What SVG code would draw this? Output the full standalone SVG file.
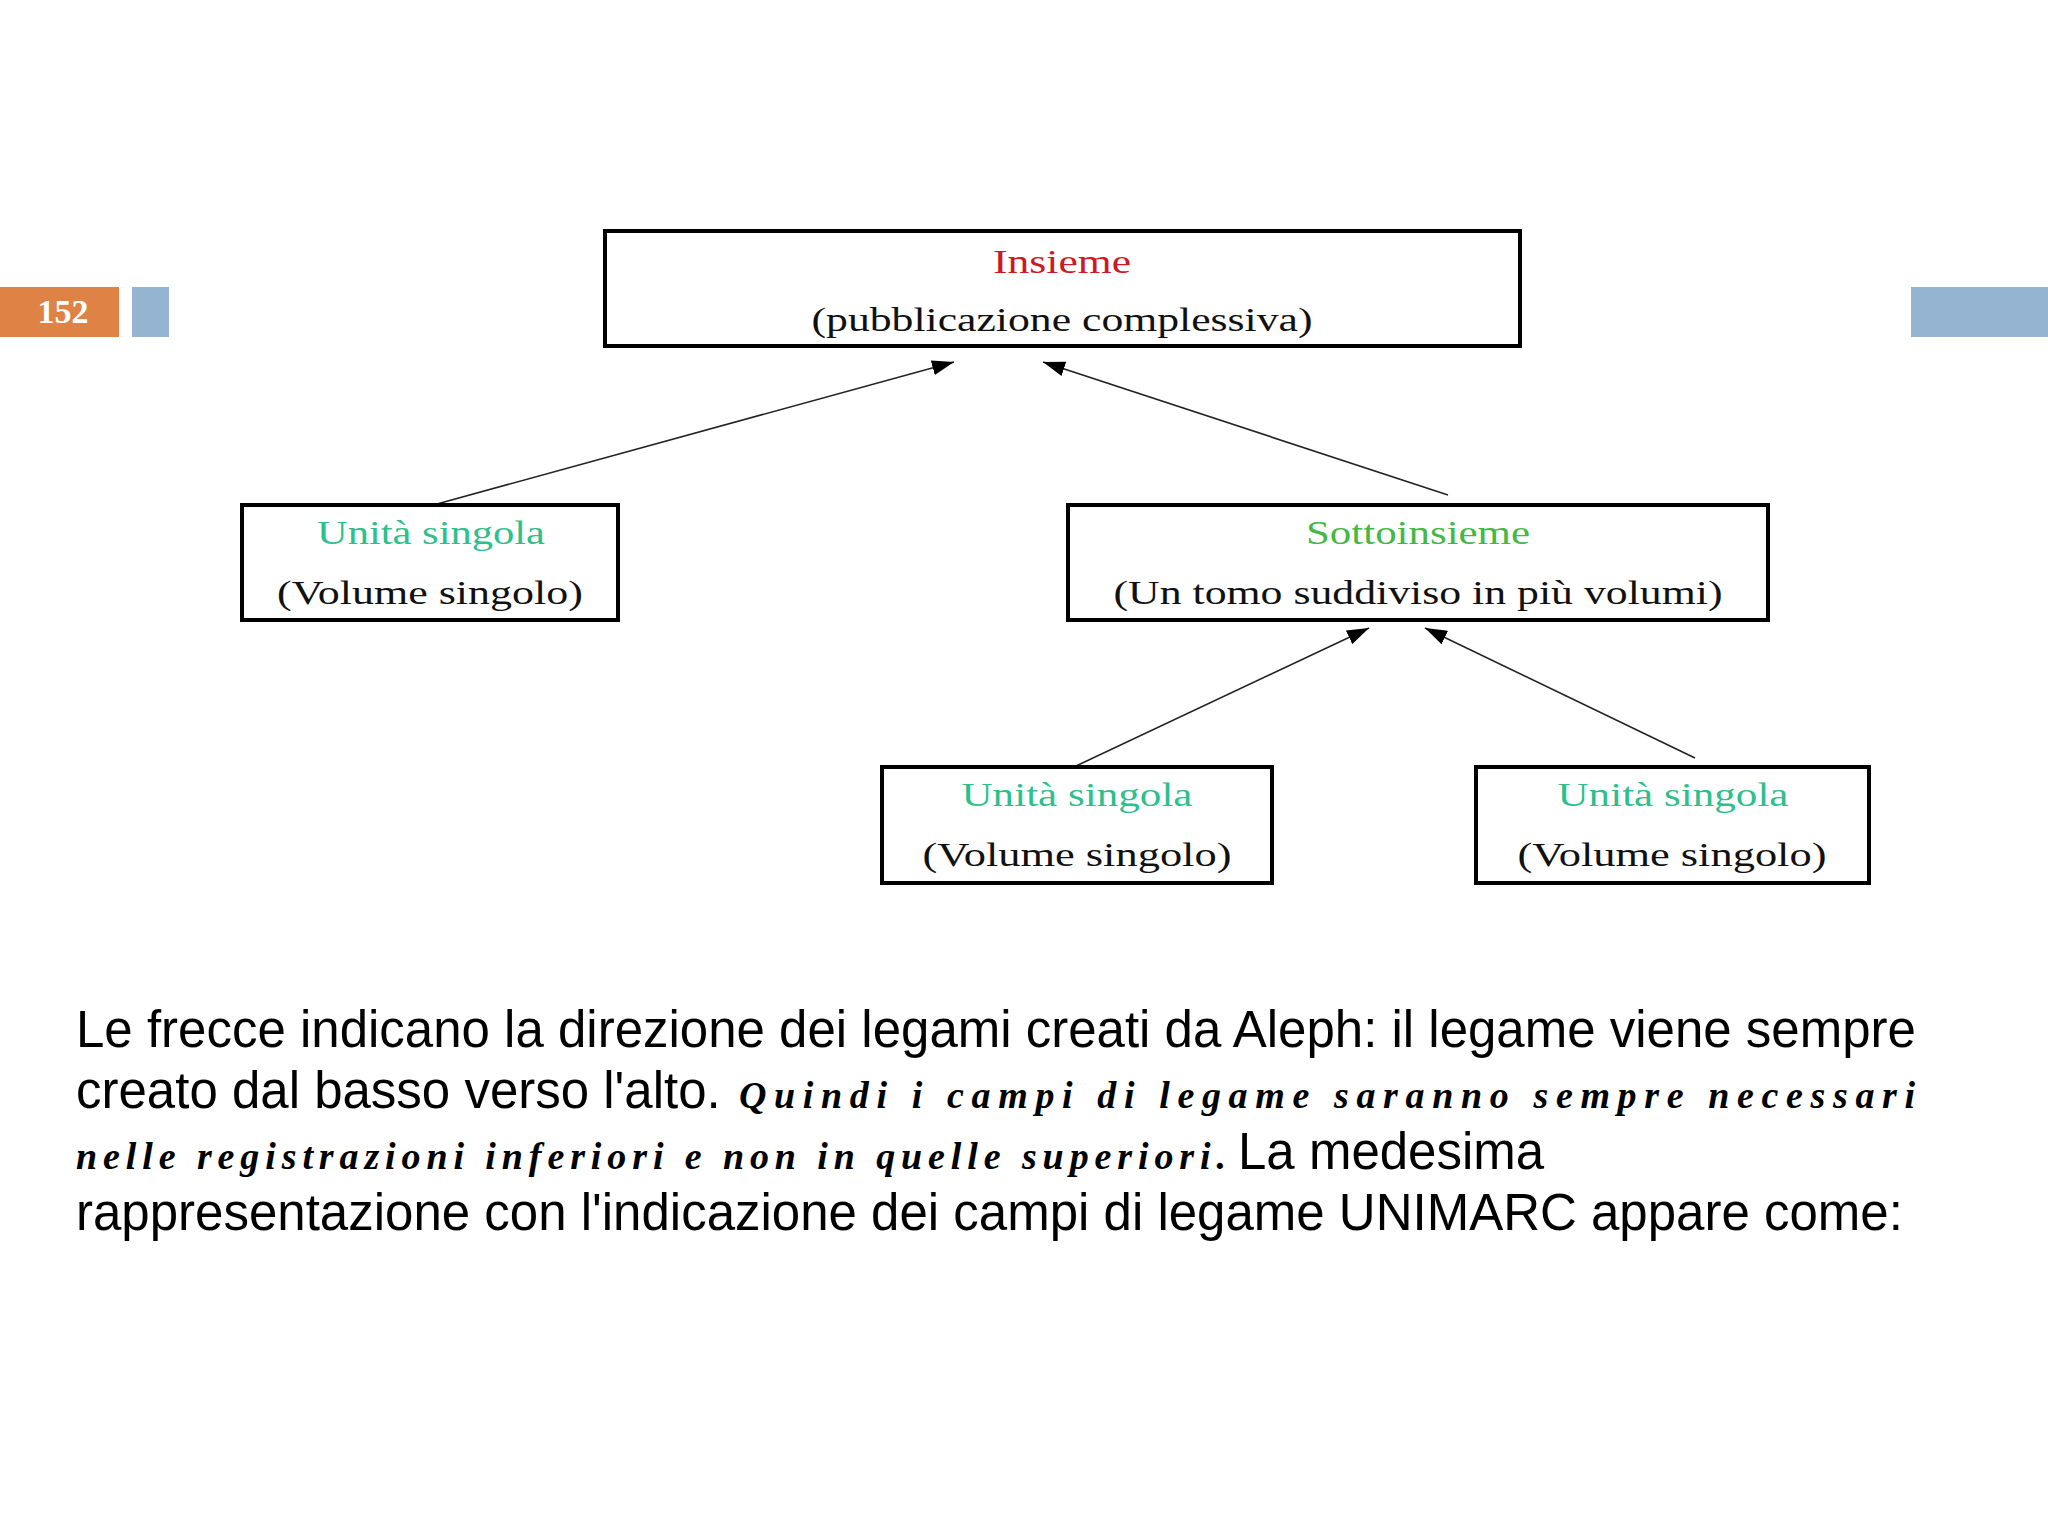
<svg xmlns="http://www.w3.org/2000/svg" width="2048" height="1536" viewBox="0 0 2048 1536">
  <style>
    .box { fill: #ffffff; stroke: #000000; stroke-width: 4; }
    .lbl { font-family: "Liberation Serif", "Times New Roman", serif; font-size: 34px; text-anchor: middle; }
    .sub { fill: #111111; }
    .red { fill: #cc1a24; }
    .teal { fill: #2fbf8c; }
    .green { fill: #44b844; }
    .conn { stroke: #222222; stroke-width: 1.6; fill: none; marker-end: url(#arrow); }
    .body { font-family: "Liberation Sans", Arial, sans-serif; font-size: 51px; fill: #000000; }
    .ital { font-family: "Liberation Serif", "Times New Roman", serif; font-style: italic; font-weight: bold; font-size: 38px; fill: #000000; }
  </style>
  <defs>
    <marker id="arrow" markerUnits="userSpaceOnUse" markerWidth="22" markerHeight="15" refX="22" refY="7.5" orient="auto">
      <path d="M0,0 L22,7.5 L0,15 Z" fill="#000000"/>
    </marker>
  </defs>
  <rect x="0" y="0" width="2048" height="1536" fill="#ffffff"/>

  <g id="slide-header">
    <rect x="0" y="287" width="119" height="50" fill="#df8246"/>
    <text x="63" y="323" font-family="Liberation Serif, serif" font-weight="bold" font-size="34" fill="#ffffff" text-anchor="middle">152</text>
    <rect x="132" y="287" width="37" height="50" fill="#94b4d2"/>
    <rect x="1911" y="287" width="137" height="50" fill="#94b4d2"/>
  </g>

  <g id="connectors">
    <line class="conn" x1="437" y1="504" x2="954" y2="362"/>
    <line class="conn" x1="1448" y1="495" x2="1043" y2="362"/>
    <line class="conn" x1="1076" y1="766" x2="1369" y2="628"/>
    <line class="conn" x1="1695" y1="758" x2="1425" y2="628"/>
  </g>

  <g id="node-insieme">
    <rect class="box" x="605" y="231" width="915" height="115"/>
    <text class="lbl red" x="1062" y="273" textLength="138" lengthAdjust="spacingAndGlyphs">Insieme</text>
    <text class="lbl sub" x="1062" y="331" textLength="501" lengthAdjust="spacingAndGlyphs">(pubblicazione complessiva)</text>
  </g>

  <g id="node-unita-1">
    <rect class="box" x="242" y="505" width="376" height="115"/>
    <text class="lbl teal" x="431" y="544" textLength="228" lengthAdjust="spacingAndGlyphs">Unità singola</text>
    <text class="lbl sub" x="430" y="604" textLength="306" lengthAdjust="spacingAndGlyphs">(Volume singolo)</text>
  </g>

  <g id="node-sottoinsieme">
    <rect class="box" x="1068" y="505" width="700" height="115"/>
    <text class="lbl green" x="1418" y="544" textLength="224" lengthAdjust="spacingAndGlyphs">Sottoinsieme</text>
    <text class="lbl sub" x="1418" y="604" textLength="609" lengthAdjust="spacingAndGlyphs">(Un tomo suddiviso in più volumi)</text>
  </g>

  <g id="node-unita-2">
    <rect class="box" x="882" y="767" width="390" height="116"/>
    <text class="lbl teal" x="1077" y="806" textLength="231" lengthAdjust="spacingAndGlyphs">Unità singola</text>
    <text class="lbl sub" x="1077" y="866" textLength="309" lengthAdjust="spacingAndGlyphs">(Volume singolo)</text>
  </g>

  <g id="node-unita-3">
    <rect class="box" x="1476" y="767" width="393" height="116"/>
    <text class="lbl teal" x="1673" y="806" textLength="231" lengthAdjust="spacingAndGlyphs">Unità singola</text>
    <text class="lbl sub" x="1672" y="866" textLength="309" lengthAdjust="spacingAndGlyphs">(Volume singolo)</text>
  </g>

  <g id="caption">
    <text class="body" x="76" y="1047">Le frecce indicano la direzione dei legami creati da Aleph: il legame viene sempre</text>
    <text class="body" x="76" y="1108">creato dal basso verso l'alto.</text>
    <text class="ital" x="739" y="1108" textLength="1176" lengthAdjust="spacing">Quindi i campi di legame saranno sempre necessari</text>
    <text class="ital" x="76" y="1169" textLength="1150" lengthAdjust="spacing">nelle registrazioni inferiori e non in quelle superiori.</text>
    <text class="body" x="1238" y="1169">La medesima</text>
    <text class="body" x="76" y="1230">rappresentazione con l'indicazione dei campi di legame UNIMARC appare come:</text>
  </g>
</svg>
